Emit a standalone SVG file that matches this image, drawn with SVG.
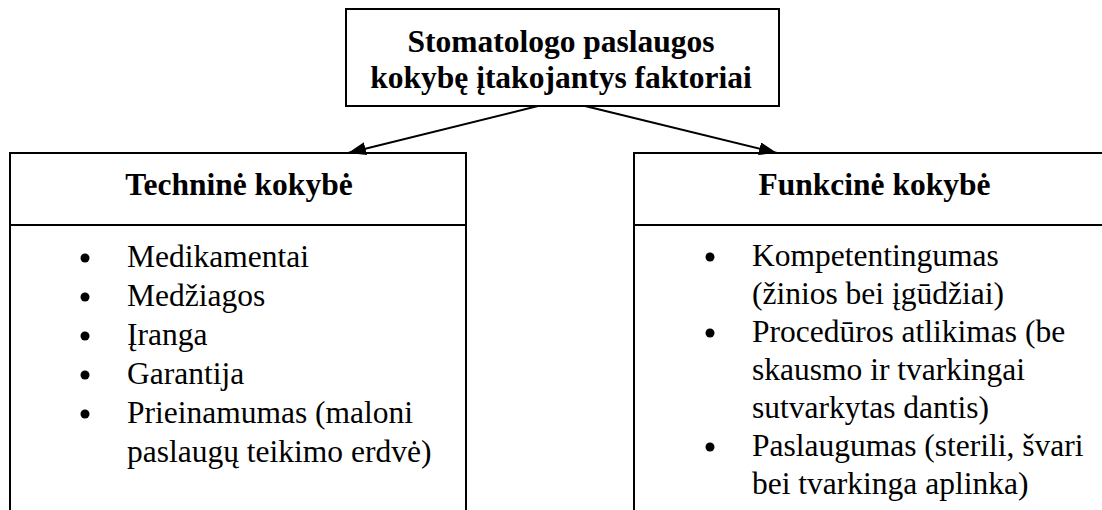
<svg xmlns="http://www.w3.org/2000/svg" width="1102" height="510" viewBox="0 0 1102 510">
  <style>
    .box { fill: #fff; stroke: #000; stroke-width: 2; }
    .rule { stroke: #000; stroke-width: 2; }
    .conn { stroke: #000; stroke-width: 2; fill: none; }
    .title { font-family: "Liberation Serif", "Times New Roman", serif; font-weight: bold; font-size: 31.5px; fill: #000; text-anchor: middle; }
    .head { font-family: "Liberation Serif", "Times New Roman", serif; font-weight: bold; font-size: 31.5px; fill: #000; text-anchor: middle; }
    .item { font-family: "Liberation Serif", "Times New Roman", serif; font-size: 31.5px; fill: #000; }
    .dot { fill: #000; }
  </style>
  <defs>
    <marker id="arrow" viewBox="0 0 18 13" refX="18" refY="6.5" markerWidth="18" markerHeight="13" markerUnits="userSpaceOnUse" orient="auto">
      <path d="M0,0 L18,6.5 L0,13 Z" fill="#000"/>
    </marker>
  </defs>
  <rect width="1102" height="510" fill="#fff"/>

  <!-- root -->
  <g id="root">
    <rect class="box" x="346" y="9" width="433" height="97"/>
    <text class="title" x="561" y="52">Stomatologo paslaugos</text>
    <text class="title" x="561" y="88">kokybę įtakojantys faktoriai</text>
  </g>

  <!-- technical quality -->
  <g id="technine">
    <rect class="box" x="10" y="153" width="456" height="380"/>
    <line class="rule" x1="10" y1="225" x2="466" y2="225"/>
    <text class="head" x="239" y="195">Techninė kokybė</text>
    <circle class="dot" cx="85" cy="258" r="4.5"/>
    <text class="item" x="127" y="267">Medikamentai</text>
    <circle class="dot" cx="85" cy="297" r="4.5"/>
    <text class="item" x="127" y="306">Medžiagos</text>
    <circle class="dot" cx="85" cy="336" r="4.5"/>
    <text class="item" x="127" y="345">Įranga</text>
    <circle class="dot" cx="85" cy="375" r="4.5"/>
    <text class="item" x="127" y="384">Garantija</text>
    <circle class="dot" cx="85" cy="414" r="4.5"/>
    <text class="item" x="127" y="423">Prieinamumas (maloni</text>
    <text class="item" x="127" y="462">paslaugų teikimo erdvė)</text>
  </g>

  <!-- functional quality -->
  <g id="funkcine">
    <rect class="box" x="634" y="153" width="490" height="380"/>
    <line class="rule" x1="634" y1="225" x2="1124" y2="225"/>
    <text class="head" x="874.5" y="195">Funkcinė kokybė</text>
    <circle class="dot" cx="710" cy="257" r="4.5"/>
    <text class="item" x="752" y="266">Kompetentingumas</text>
    <text class="item" x="752" y="304">(žinios bei įgūdžiai)</text>
    <circle class="dot" cx="710" cy="333" r="4.5"/>
    <text class="item" x="752" y="342">Procedūros atlikimas (be</text>
    <text class="item" x="752" y="380">skausmo ir tvarkingai</text>
    <text class="item" x="752" y="418">sutvarkytas dantis)</text>
    <circle class="dot" cx="710" cy="447" r="4.5"/>
    <text class="item" x="752" y="456">Paslaugumas (sterili, švari</text>
    <text class="item" x="752" y="494">bei tvarkinga aplinka)</text>
  </g>

  <!-- connectors -->
  <g id="connectors">
    <line class="conn" x1="538" y1="106" x2="348" y2="153" marker-end="url(#arrow)"/>
    <line class="conn" x1="585" y1="106" x2="777" y2="153" marker-end="url(#arrow)"/>
  </g>
</svg>
